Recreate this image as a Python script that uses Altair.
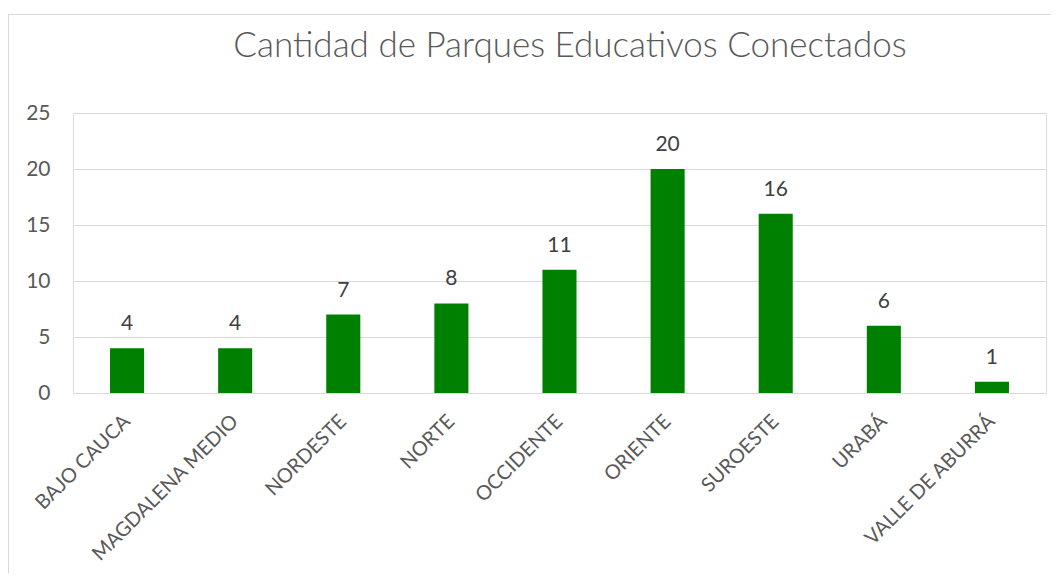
import altair as alt
import pandas as pd

categories = ["BAJO CAUCA", "MAGDALENA MEDIO", "NORDESTE", "NORTE", "OCCIDENTE",
              "ORIENTE", "SUROESTE", "URABÁ", "VALLE DE ABURRÁ"]
values = [4, 4, 7, 8, 11, 20, 16, 6, 1]
y_ticks = [0, 5, 10, 15, 20, 25]
title_text = "Cantidad de Parques Educativos Conectados"

df = pd.DataFrame({"region": categories, "count": values})

FONT = "Lato"
x_enc = alt.X("region:N", sort=categories,
              scale=alt.Scale(paddingInner=0.685, paddingOuter=0.3425),
              axis=alt.Axis(title=None, labelAngle=-45, labelAlign="right",
                            labelBaseline="middle", labelPadding=25,
                            labelFontSize=20, labelColor="#595959", labelFont=FONT,
                            ticks=False, domain=True, domainColor="#D9D9D9",
                            domainWidth=1, labelLimit=400))
y_enc = alt.Y("count:Q", scale=alt.Scale(domain=[0, 25], nice=False),
              axis=alt.Axis(title=None, values=y_ticks, labelFontSize=21,
                            labelColor="#595959", labelFont=FONT, ticks=False,
                            domain=False, labelPadding=23, gridColor="#D9D9D9",
                            gridWidth=1))

base = alt.Chart(df)
bars = base.mark_bar(color="#008000").encode(x=x_enc, y=y_enc)
labels = base.mark_text(baseline="bottom", dy=-14, fontSize=21, font=FONT,
                        color="#404040").encode(
    x=alt.X("region:N", sort=categories), y=alt.Y("count:Q"),
    text=alt.Text("count:Q"))

title = alt.Chart(pd.DataFrame({"t": [title_text]})).mark_text(
    fontSize=35, font=FONT, color="#595959", align="center", baseline="middle",
    fontWeight=300).encode(text="t:N", x=alt.value(497), y=alt.value(-67))

border_left = alt.Chart(pd.DataFrame({"a": [0]})).mark_rule(
    color="#D9D9D9", strokeWidth=1).encode(
    x=alt.value(-64.5), y=alt.value(-98.5), y2=alt.value(600))
border_top = alt.Chart(pd.DataFrame({"a": [0]})).mark_rule(
    color="#D9D9D9", strokeWidth=1).encode(
    x=alt.value(-64.5), x2=alt.value(1100), y=alt.value(-98.5))

chart = alt.layer(border_left, border_top, bars, labels, title).properties(
    width=973, height=280,
    autosize=alt.AutoSizeParams(type="none"),
    padding={"left": 65, "top": 105, "right": 5, "bottom": 180},
).configure_view(stroke=None).configure(background="white")

chart.save("out.html", embed_options={"renderer": "svg", "actions": False})
